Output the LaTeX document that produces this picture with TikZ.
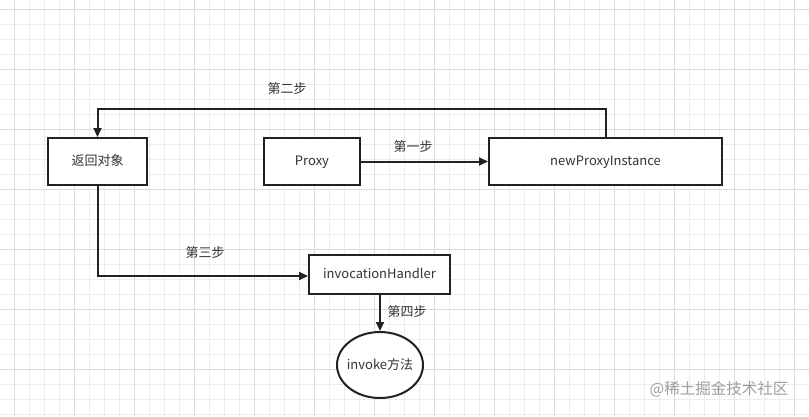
\documentclass[tikz,border=0pt]{standalone}
\usepackage{fontspec}
\setmainfont{Noto Sans CJK SC}
\usetikzlibrary{arrows.meta,shapes.geometric}
\definecolor{gridminor}{HTML}{EDEDED}
\definecolor{gridmajor}{HTML}{DCDCDC}
\definecolor{ink}{HTML}{222222}
\definecolor{txt}{HTML}{333333}
\begin{document}
\begin{tikzpicture}[x=1pt,y=-1pt,
  box/.style={draw=ink,line width=2pt,fill=white,inner sep=0pt,text height=9pt,text depth=1pt,font=\fontsize{13}{15}\selectfont,text=txt},
  conn/.style={draw=ink,line width=2pt,-{Triangle[length=9pt,width=8pt]}},
  lbl/.style={font=\fontsize{13}{15}\selectfont,text=txt,inner sep=0pt}]
\useasboundingbox (0,0) rectangle (809,416);
\fill[white] (0,0) rectangle (809,416);
% grid
\foreach \i in {0,...,53} {
  \pgfmathsetmacro{\xx}{14.3+15*\i}
  \draw[gridminor,line width=0.8pt] (\xx,0) -- (\xx,416);
}
\foreach \i in {0,...,27} {
  \pgfmathsetmacro{\yy}{9.3+15*\i}
  \draw[gridminor,line width=0.8pt] (0,\yy) -- (809,\yy);
}
\foreach \i in {0,...,13} {
  \pgfmathsetmacro{\xx}{14.3+60*\i}
  \draw[gridmajor,line width=0.8pt] (\xx,0) -- (\xx,416);
}
\foreach \i in {0,...,6} {
  \pgfmathsetmacro{\yy}{9.3+60*\i}
  \draw[gridmajor,line width=0.8pt] (0,\yy) -- (809,\yy);
}
% nodes
\node[box,minimum width=99pt,minimum height=47pt] (ret) at (97.5,161.5) {返回对象};
\node[box,minimum width=96pt,minimum height=47pt] (proxy) at (312,161.5) {Proxy};
\node[box,minimum width=233pt,minimum height=47pt] (npi) at (605.5,161.5) {newProxyInstance};
\node[box,minimum width=141pt,minimum height=39pt] (ih) at (379.5,274.5) {invocationHandler};
\node[box,ellipse,inner xsep=-8pt,minimum width=86pt,minimum height=66pt] (inv) at (380,365) {invoke方法};
% connectors
\coordinate (c1) at (605.5,109);
\coordinate (c2) at (97.5,109);
\coordinate (c3) at (97.5,276);
\draw[conn] (npi.north) -- (c1) -- (c2) -- (ret.north);
\draw[conn] (proxy.east) -- (npi.west);
\draw[conn] (ret.south) -- (c3) -- (ih.west |- c3);
\draw[conn] (ih.south -| inv.north) -- (inv.north);
% labels
\node[lbl] (l1) at (413,147) {第一步};
\node[lbl] (l2) at (287,89) {第二步};
\node[lbl] (l3) at (205,253) {第三步};
\node[lbl] (l4) at (407,312) {第四步};
\node[lbl,text=gray!75,font=\fontsize{15.5}{17}\selectfont] (wm) at (719,389) {@稀土掘金技术社区};
\end{tikzpicture}
\end{document}
